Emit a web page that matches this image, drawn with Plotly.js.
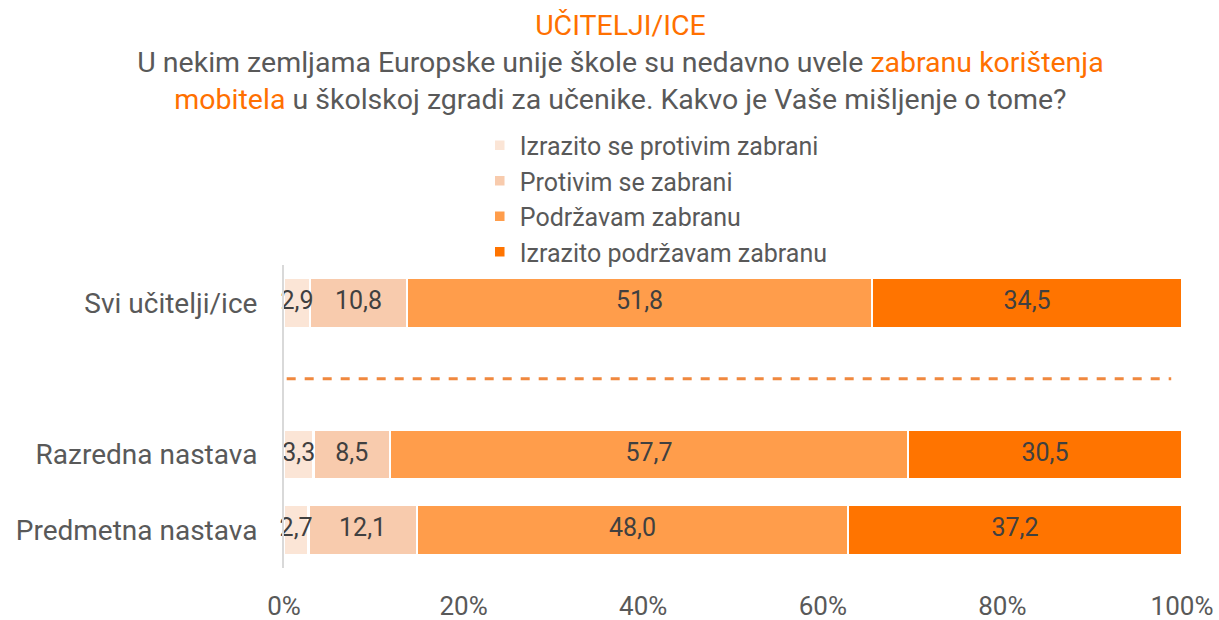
<!DOCTYPE html>
<html><head><meta charset="utf-8">
<script src="https://cdn.plot.ly/plotly-3.0.1.min.js"></script>
<style>body{margin:0;background:#fff}#chart{width:1219px;height:620px}</style>
</head><body><div id="chart"></div>
<script>
const categories = ['Svi učitelji/ice', ' ', 'Razredna nastava', 'Predmetna nastava'];
const barCategories = ['Svi učitelji/ice', 'Razredna nastava', 'Predmetna nastava'];
const seriesNames = ['Izrazito se protivim zabrani', 'Protivim se zabrani', 'Podržavam zabranu', 'Izrazito podržavam zabranu'];
const izrazitoProtiv = [2.9, 3.3, 2.7];
const protiv = [10.8, 8.5, 12.1];
const podrzavam = [51.8, 57.7, 48.0];
const izrazitoPodrzavam = [34.5, 30.5, 37.2];
const tickVals = [0, 20, 40, 60, 80, 100];
const tickText = ['0%', '20%', '40%', '60%', '80%', '100%'];

const colors = ['#FBE5D6', '#F8CBAD', '#FF9D4B', '#FF7400'];
const FONT = 'Roboto, "Noto Sans", sans-serif';
const GRAY = '#595959';
const seriesVals = [izrazitoProtiv, protiv, podrzavam, izrazitoPodrzavam];

const traces = seriesVals.map((vals, i) => ({
  type: 'bar', orientation: 'h', name: seriesNames[i],
  y: barCategories, x: vals,
  marker: {color: colors[i], line: {color: '#ffffff', width: 2.5}},
  hoverinfo: 'x+name'
}));

const lx = [], ly = [], lt = [];
barCategories.forEach((c, j) => {
  let cum = 0;
  seriesVals.forEach(vals => {
    const v = vals[j];
    lx.push(cum + v / 2); ly.push(c); lt.push(v.toFixed(1).replace('.', ','));
    cum += v;
  });
});
traces.push({
  type: 'scatter', mode: 'text', x: lx, y: ly, text: lt,
  textfont: {family: FONT, size: 25, color: '#404040'},
  showlegend: false, hoverinfo: 'skip', cliponaxis: false
});

const O = '#FF7000';
const layout = {
  width: 1219, height: 620,
  margin: {l: 284, r: 37, t: 265, b: 52},
  paper_bgcolor: '#fff', plot_bgcolor: '#fff',
  barmode: 'stack', bargap: 0.34,
  font: {family: FONT, color: GRAY},
  title: {
    text: '<span style="color:' + O + '">UČITELJI/ICE</span><br>U nekim zemljama Europske unije škole su nedavno uvele <span style="color:' + O + '">zabranu korištenja</span><br><span style="color:' + O + '">mobitela</span> u školskoj zgradi za učenike. Kakvo je Vaše mišljenje o tome?',
    font: {family: FONT, size: 28.5, color: GRAY},
    x: 0.509, xanchor: 'center', xref: 'container',
    y: 0.944, yanchor: 'top', yref: 'container'
  },
  legend: {
    x: 0.218, xanchor: 'left', y: 1.47, yanchor: 'top',
    orientation: 'v', traceorder: 'normal',
    font: {family: FONT, size: 25, color: GRAY},
    itemwidth: 30, tracegroupgap: 0
  },
  xaxis: {
    range: [0, 100], tickvals: tickVals, ticktext: tickText,
    showgrid: false, zeroline: false, showline: false, ticks: '',
    tickfont: {family: FONT, size: 26, color: GRAY},
    ticklabelstandoff: 20, fixedrange: true
  },
  yaxis: {
    type: 'category', categoryorder: 'array', categoryarray: categories,
    range: [3.5, -0.5], showgrid: false, zeroline: false,
    showline: true, linecolor: '#d9d9d9', linewidth: 2, ticks: '',
    tickfont: {family: FONT, size: 28, color: GRAY},
    ticklabelstandoff: 19, fixedrange: true
  },
  shapes: [{
    type: 'line', xref: 'x', yref: 'y', x0: 0.3, x1: 98.8, y0: ' ', y1: ' ',
    line: {color: '#F0883E', width: 3, dash: 'dash'}
  }],
  showlegend: true
};

Plotly.newPlot('chart', traces, layout, {displayModeBar: false, staticPlot: true});
</script>
</body></html>
